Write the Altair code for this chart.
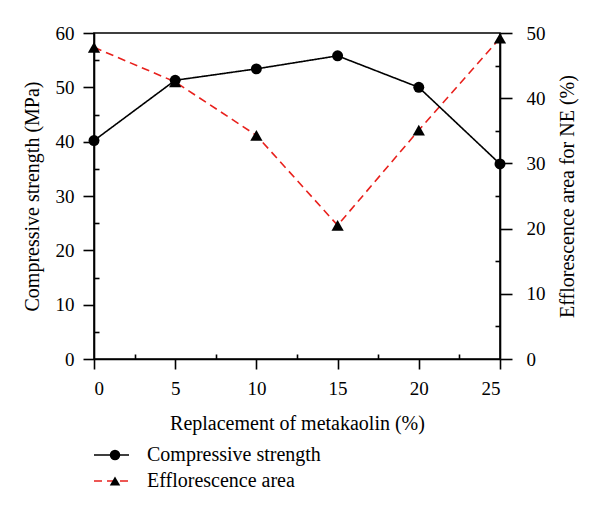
import altair as alt
import pandas as pd

# ---- data ----
replacement = [0, 5, 10, 15, 20, 25]
strength = [40.2, 51.3, 53.4, 55.8, 50.0, 35.9]
efflorescence = [47.8, 42.5, 34.3, 20.5, 35.1, 49.2]
series_names = ["Compressive strength", "Efflorescence area"]
marker_names = ["circle marker", "triangle marker"]
x_ticks = [0, 5, 10, 15, 20, 25]
x_minor = [2.5, 7.5, 12.5, 17.5, 22.5]
left_ticks = [0, 10, 20, 30, 40, 50, 60]
left_minor = [5, 15, 25, 35, 45, 55]
right_ticks = [0, 10, 20, 30, 40, 50]
right_minor = [5, 15, 25, 35, 45]

df_s = pd.DataFrame({"x": replacement, "v": strength,
                     "series": series_names[0], "marker": marker_names[0]})
df_e = pd.DataFrame({"x": replacement, "v": efflorescence,
                     "series": series_names[1], "marker": marker_names[1]})

FONT = "Liberation Serif"
W, H = 406, 326
RED = "#e8201c"

color_scale = alt.Scale(domain=series_names, range=["black", RED])
dash_scale = alt.Scale(domain=series_names, range=[[1, 0], [8, 5]])
shape_scale = alt.Scale(domain=marker_names, range=["circle", "triangle-up"])

legend_lines = alt.Legend(
    title=None, orient="none", legendX=-1, legendY=409,
    symbolSize=1225, symbolStrokeWidth=1.5, labelFont=FONT, labelFontSize=20,
    labelColor="black", labelOffset=17, labelLimit=400, clipHeight=26,
    rowPadding=0, padding=0,
)
legend_marks = alt.Legend(
    title=None, orient="none", legendX=11, legendY=409,
    symbolSize=110, symbolFillColor="black", symbolStrokeColor="black",
    symbolStrokeWidth=0, labelFont=FONT, labelFontSize=20, labelExpr="''",
    clipHeight=26, rowPadding=0, padding=0,
)

x_none = alt.X("x:Q", scale=alt.Scale(domain=[0, 25], nice=False), axis=None)
x_main = alt.X(
    "x:Q", scale=alt.Scale(domain=[0, 25], nice=False),
    axis=alt.Axis(values=x_ticks, title="Replacement of metakaolin (%)",
                  tickSize=10, labelPadding=10, titleY=70,
                  titleBaseline="alphabetic", grid=False),
)
x_minor_enc = alt.X(
    "x:Q", scale=alt.Scale(domain=[0, 25], nice=False),
    axis=alt.Axis(orient="top", offset=-H, values=x_minor, labels=False,
                  domain=False, tickSize=5, title=None, grid=False),
)

left_scale = alt.Scale(domain=[0, 60], nice=False, zero=True)
right_scale = alt.Scale(domain=[0, 50], nice=False, zero=True)

# efflorescence (right axis)
e_base = alt.Chart(df_e)
e_line = e_base.mark_line(strokeWidth=1.6).encode(
    x=x_none,
    y=alt.Y("v:Q", scale=right_scale,
            axis=alt.Axis(orient="right", values=right_ticks, tickSize=12,
                          labelPadding=14, title="Efflorescence area for NE (%)",
                          titleAngle=-90, titleX=67, titleY=H / 2,
                          titleBaseline="middle", titleAlign="center", grid=False)),
    color=alt.Color("series:N", scale=color_scale, legend=legend_lines),
    strokeDash=alt.StrokeDash("series:N", scale=dash_scale, legend=legend_lines),
)
e_pts = e_base.mark_point(filled=True, color="black", size=150, opacity=1).encode(
    x=x_none, y=alt.Y("v:Q", scale=right_scale),
    shape=alt.Shape("marker:N", scale=shape_scale, legend=legend_marks),
)
e_layer = alt.layer(e_line, e_pts)

# compressive strength (left axis)
s_base = alt.Chart(df_s)
s_line = s_base.mark_line(strokeWidth=1.6).encode(
    x=x_main,
    y=alt.Y("v:Q", scale=left_scale,
            axis=alt.Axis(orient="left", values=left_ticks, tickSize=11,
                          labelPadding=9, title="Compressive strength (MPa)",
                          titleAngle=-90, titleX=-62, titleY=H / 2,
                          titleBaseline="middle", titleAlign="center", grid=False)),
    color=alt.Color("series:N", scale=color_scale, legend=legend_lines),
    strokeDash=alt.StrokeDash("series:N", scale=dash_scale, legend=legend_lines),
)
s_pts = s_base.mark_point(filled=True, color="black", size=120, opacity=1).encode(
    x=x_main, y=alt.Y("v:Q", scale=left_scale),
    shape=alt.Shape("marker:N", scale=shape_scale, legend=legend_marks),
)
s_layer = alt.layer(s_line, s_pts)

# minor ticks (axes only, invisible marks)
minor_a = alt.Chart(df_s).mark_point(opacity=0).encode(
    x=x_minor_enc,
    y=alt.Y("v:Q", scale=left_scale,
            axis=alt.Axis(orient="right", offset=-W, values=left_minor,
                          labels=False, domain=False, tickSize=5, title=None,
                          grid=False)),
)
minor_b = alt.Chart(df_e).mark_point(opacity=0).encode(
    x=x_none,
    y=alt.Y("v:Q", scale=right_scale,
            axis=alt.Axis(orient="left", offset=-W, values=right_minor,
                          labels=False, domain=False, tickSize=5, title=None,
                          grid=False)),
)

chart = (
    alt.layer(e_layer, s_layer, minor_a, minor_b)
    .resolve_scale(y="independent")
    .resolve_axis(x="independent", y="independent")
    .properties(
        width=W, height=H,
        autosize=alt.AutoSizeParams(type="none"),
        padding={"left": 86, "top": 25, "right": 90, "bottom": 140},
    )
    .configure_view(stroke="black", strokeWidth=1.6)
    .configure_axis(
        domainColor="black", domainWidth=1.6, tickColor="black", tickWidth=1.6,
        labelFont=FONT, labelFontSize=19, labelColor="black",
        titleFont=FONT, titleFontSize=20, titleFontWeight="normal",
        titleColor="black",
    )
    .configure_legend(labelFont=FONT)
)

chart.save("out.html", embed_options={"renderer": "svg", "actions": False})
